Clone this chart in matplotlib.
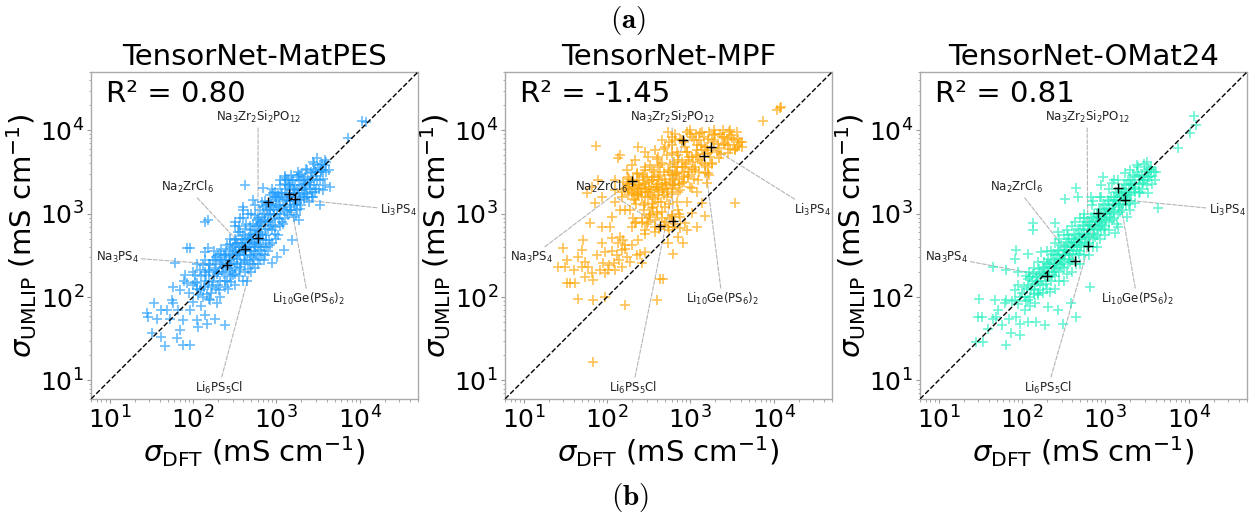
import matplotlib
matplotlib.use("Agg")
import matplotlib.pyplot as plt
import numpy as np

# ---------------- data ----------------
model_names = ["TensorNet-MatPES", "TensorNet-MPF", "TensorNet-OMat24"]
r2_texts = ["0.80", "-1.45", "0.81"]
marker_colors = ["#1E9BFF", "#FFA500", "#22F0BE"]

material_labels = ["Na$_3$PS$_4$", "Na$_2$ZrCl$_6$", "Li$_6$PS$_5$Cl",
                   "Na$_3$Zr$_2$Si$_2$PO$_{12}$", "Li$_{10}$Ge(PS$_6$)$_2$", "Li$_3$PS$_4$"]

# highlighted materials: (sigma_DFT, sigma_UMLIP) per model
hl_matpes_dft = [256, 421, 800, 603, 1420, 1675]
hl_matpes_umlip = [243, 378, 1380, 512, 1720, 1500]
hl_mpf_dft = [200, 432, 817, 617, 1460, 1770]
hl_mpf_umlip = [2470, 710, 7650, 810, 4900, 6300]
hl_omat_dft = [200, 432, 817, 617, 1420, 1720]
hl_omat_umlip = [179, 268, 1020, 406, 2030, 1460]

matpes_points = [
    (10700, 13000), (12000, 12600), (7200, 8000), (3060, 4700), (3850, 4400), (3360, 3830),
    (4230, 3330), (3680, 3330), (2320, 3330), (2790, 3040), (2120, 2530), (1760, 2770),
    (1280, 2650), (1470, 2200), (2670, 1600), (3360, 1270), (4430, 2100), (3680, 1920),
    (2550, 2200), (423, 2200), (700, 2010), (925, 1750), (532, 1455), (670, 1390),
    (404, 1210), (320, 800), (140, 800), (153, 837), (2120, 1600), (1760, 1330),
    (1470, 1100), (1610, 918), (1850, 837), (1530, 482), (883, 253), (1010, 304),
    (1220, 366), (84, 390), (92, 390), (152, 386), (140, 349), (61, 258), (80, 183),
    (84, 146), (58, 133), (70, 121), (58, 84), (67, 70), (34, 85), (28, 64), (29, 58),
    (37, 55), (42, 70), (49, 71), (56, 92), (53, 55), (32, 37), (42, 33), (46, 26),
    (64, 32), (77, 27), (92, 26.5), (111, 53), (116, 44), (140, 61), (147, 48), (185, 55),
    (243, 46), (193, 84), (161, 92), (92, 70), (101, 88), (111, 146), (77, 53), (70, 40),
    (112, 126), (126, 178), (132, 100), (141, 200), (151, 141), (158, 251), (166, 112),
    (178, 178), (190, 224), (200, 141), (200, 316), (209, 100), (224, 200), (224, 282),
    (240, 158), (251, 355), (251, 224), (263, 126), (100, 200), (112, 251), (89, 112),
    (126, 79), (141, 282), (178, 355), (282, 178),
    (282, 282), (302, 398), (316, 224), (316, 501), (331, 316), (355, 178), (355, 398),
    (380, 251), (398, 562), (398, 355), (417, 200), (447, 447), (447, 282), (479, 708),
    (501, 355), (501, 501), (525, 251), (562, 631), (562, 398), (603, 891), (603, 316),
    (631, 501), (661, 708), (708, 398), (708, 1000), (759, 562), (794, 794), (794, 355),
    (282, 501), (316, 708), (355, 708), (398, 891), (447, 158), (501, 1000), (562, 224),
    (631, 282), (708, 282), (380, 447), (417, 398), (479, 316), (525, 562), (589, 501),
    (661, 398),
    (832, 1122), (891, 631), (891, 1413), (955, 891), (1000, 1259), (1000, 501),
    (1047, 1778), (1122, 1000), (1122, 708), (1202, 1413), (1259, 1995), (1259, 891),
    (1318, 1259), (1413, 1585), (1413, 2239), (1514, 1122), (1585, 1778), (1660, 1413),
    (1778, 1995), (1778, 1122), (1905, 1585), (1995, 2239), (1995, 1259), (2239, 1778),
    (2399, 2512), (2512, 1995), (2630, 3162), (2818, 2239), (3020, 2818), (3162, 3548),
    (3311, 2512), (3548, 3981), (1259, 2818), (1122, 2512), (1585, 2512), (891, 1995),
    (158, 158), (190, 126), (214, 251), (234, 316), (269, 251), (295, 200), (339, 251),
    (372, 316), (427, 501), (468, 398), (537, 447), (589, 708), (676, 562), (741, 794),
    (851, 708), (933, 1000), (1072, 1259), (1175, 1778), (1349, 1778), (1479, 1413),
    (1698, 1778), (1862, 2512), (2138, 1995), (2344, 1585), (251, 282), (316, 355),
    (398, 447), (501, 631), (631, 794), (794, 1000), (1000, 1585), (200, 200), (158, 200),
    (302, 316), (339, 447), (427, 316), (537, 355), (759, 1259), (955, 1585), (1318, 2512),
    (3981, 3162), (3802, 2239), (2818, 3981), (126, 126), (100, 141), (79, 158),
    (105, 151), (115, 105), (123, 209), (135, 132), (145, 182), (155, 95), (162, 240),
    (174, 151), (186, 282), (195, 191), (204, 120), (214, 331), (229, 229), (245, 132),
    (257, 417), (269, 302), (275, 209), (288, 151), (295, 380), (309, 263),
    (324, 191), (331, 479), (347, 331), (363, 229), (372, 603), (389, 398), (407, 275),
    (417, 661), (437, 363), (457, 219), (468, 525), (490, 398), (513, 302), (525, 759),
    (550, 437), (575, 331), (589, 832), (617, 603), (646, 363), (676, 912), (692, 479),
    (724, 661), (741, 316), (776, 1148), (813, 479), (851, 955), (871, 1318), (912, 724),
    (933, 1096), (977, 575),
    (1023, 1514), (1072, 871), (1096, 1202), (1148, 1660), (1175, 794), (1230, 1096),
    (1288, 2291), (1349, 1445), (1380, 955), (1445, 1905), (1479, 1202), (1549, 2512),
    (1622, 1318), (1698, 2188), (1738, 955), (1820, 1660), (1862, 2884), (1950, 1148),
    (2042, 1905), (2138, 1514), (2188, 2754), (2291, 2089), (2455, 1380), (2570, 2399),
    (2692, 1820), (2884, 3311), (2951, 1995), (3090, 2512), (3388, 3162), (3631, 2630),
    (3802, 3802), (3981, 4169), (2754, 4169), (2291, 3467), (1820, 3162), (1514, 2884),
    (457, 1000), (550, 1259), (631, 1122), (724, 1413), (398, 1122), (363, 891), (832, 1660),
    (501, 200), (603, 251), (759, 398), (891, 447), (1047, 562), (398, 158), (316, 141),
    (107, 182), (120, 120), (138, 158), (148, 110), (158, 209), (170, 132), (182, 209),
    (190, 302), (209, 158), (219, 263), (234, 191), (245, 316), (257, 158), (275, 331),
    (288, 251), (302, 182), (316, 417), (339, 288), (355, 347), (372, 209), (389, 501),
    (407, 380), (427, 263), (457, 479), (479, 251), (490, 575), (513, 457), (537, 288),
    (575, 550), (603, 417), (617, 759), (646, 575), (676, 331), (724, 832), (759, 479),
    (794, 661), (832, 417), (871, 832), (912, 1202), (955, 692), (1023, 1000), (1072, 1585),
    (1148, 1148), (1202, 759), (1288, 1514), (1349, 1047), (1445, 2089), (1514, 1585),
    (1622, 1995), (1698, 1259), (1862, 1905), (1950, 1445), (2089, 2512), (2239, 2291),
    (2344, 1738), (2630, 2630), (2754, 1585), (3020, 3162), (3236, 1995), (3467, 3311),
    (2884, 1820), (1995, 3020), (1380, 2512), (1096, 2188), (977, 1820), (692, 1202),
    (550, 955), (437, 759), (347, 603), (275, 437), (219, 380), (174, 275), (132, 240),
]

mpf_points = [
    (30, 383), (31.5, 231), (26, 231), (33, 146), (36, 146), (41.5, 146), (40, 210),
    (52, 482), (50, 366), (55, 265), (63, 764), (60, 231), (66, 192), (75.5, 318),
    (83, 210), (91, 253), (95, 349), (95, 192), (109, 697), (114, 505), (120, 253),
    (125, 210), (131, 318), (137, 440), (144, 528), (151, 366), (158, 482), (165, 420),
    (173, 304), (199, 697), (218, 764), (239, 482), (250, 333), (262, 253), (287, 349),
    (104, 210), (87, 440), (69, 160), (55, 175), (50, 231), (45.5, 304), (33, 277),
    (144, 1100), (114, 918), (87, 697), (72, 1330), (125, 1390), (151, 1600), (165, 1100),
    (87, 1600), (57, 1750), (66, 2100), (79, 2530), (125, 2530), (137, 4600), (144, 5050),
    (239, 6350), (287, 5530), (199, 3830),
    (125, 1920), (151, 1830), (181, 2100), (199, 1750), (228, 2200), (239, 1670),
    (262, 2010), (287, 2310), (315, 1830), (345, 2530), (361, 1600), (396, 2100),
    (415, 2770), (455, 1920), (499, 2310), (547, 3330), (600, 2010), (628, 2530),
    (689, 3040), (721, 1830), (791, 2310), (867, 3660), (951, 2770), (1040, 2010),
    (1140, 3330), (1250, 2530), (1370, 4010), (1510, 3040), (1650, 3660), (218, 1455),
    (287, 1330), (345, 1160), (415, 1390), (499, 1210), (600, 918), (721, 1100),
    (867, 764), (908, 635), (262, 764), (315, 800), (378, 697), (455, 877), (547, 697),
    (755, 665), (1040, 1010), (1200, 697), (1370, 1330), (345, 3330), (455, 4010),
    (600, 5280), (315, 4820), (287, 3660), (415, 4820), (499, 6350), (658, 7640),
    (721, 4400), (908, 5530), (1040, 8380), (995, 10070), (1200, 6650), (1370, 5790),
    (1650, 5280), (1810, 7640), (1900, 10070), (2180, 6070), (2390, 8380), (2620, 6970),
    (3010, 10070), (3150, 8000), (3610, 9610), (3780, 6650), (4150, 7290), (3450, 5790),
    (2870, 5280), (2180, 4600), (1810, 4010), (1510, 6350), (1310, 9180), (908, 9610),
    (791, 7640), (547, 9610), (600, 8380), (455, 7640), (378, 5790), (274, 2900),
    (228, 3040), (181, 2770), (158, 2420), (173, 3330), (218, 4400), (415, 3660),
    (658, 3660), (951, 4400), (1250, 4820), (1650, 3040), (1580, 2310), (1200, 1830),
    (908, 1390), (689, 1390), (522, 1600), (396, 1050), (330, 962), (755, 918),
    (628, 697), (1040, 4820), (287, 635), (190, 1100), (208, 877),
    (1510, 940), (3470, 1350), (628, 331), (435, 167), (476, 167), (396, 93), (165, 80),
    (45, 96), (69, 92), (95, 100), (69, 16.7), (75, 6460), (547, 440), (721, 528),
    (820, 440), (12000, 18300), (11000, 17500), (12300, 18800), (7400, 12900),
    (166, 1995), (178, 1660), (190, 2291), (200, 1820), (209, 1514), (219, 2089),
    (229, 1738), (240, 2512), (251, 1995), (263, 1585), (275, 2291), (288, 1820),
    (302, 2754), (316, 2089), (331, 1660), (347, 2512), (363, 1995), (380, 1514),
    (398, 2291), (417, 1820), (437, 2884), (457, 2188), (479, 1660), (501, 2630),
    (525, 1995), (550, 3162), (575, 2399), (603, 1738), (631, 2884), (661, 2188),
    (692, 3631), (724, 2630), (759, 1905), (794, 3162), (832, 2399), (891, 3981),
    (933, 2884), (1000, 2089), (1047, 3467), (1122, 2630), (224, 1318), (282, 1259),
    (355, 1202), (447, 1380), (562, 1318), (182, 2630), (229, 3020), (288, 3311),
    (363, 3162), (331, 3802),
    (525, 5012), (603, 6607), (692, 5495), (759, 7943), (871, 6310), (955, 4786),
    (1096, 7586), (1202, 5754), (1318, 4365), (1445, 8318), (1585, 6310), (1738, 4786),
    (1905, 7244), (2089, 5495), (2291, 9120), (2512, 6607), (2754, 7943), (3020, 6026),
    (3311, 7586), (3631, 6310), (3981, 7244), (2884, 9550), (1995, 8913), (1380, 9550),
    (1000, 8913), (794, 4169), (1148, 3631), (1514, 3802), (1820, 3981), (1259, 3162),
    (1660, 2884), (661, 9120), (575, 3981), (479, 6026), (398, 4571),
    (263, 891), (302, 759), (331, 1000), (380, 832), (417, 661), (457, 1047), (501, 794),
    (550, 631), (603, 955), (661, 759), (724, 1000), (380, 603), (288, 575), (224, 794),
    (166, 380), (190, 263), (138, 282), (115, 355), (200, 417), (151, 229), (229, 316),
    (105, 240),
    (174, 2291), (186, 1905), (204, 2512), (214, 1995), (234, 1660), (245, 2188),
    (257, 1820), (269, 2754), (295, 1995), (309, 1585), (324, 2399), (339, 1905),
    (372, 2754), (389, 2089), (407, 1660), (427, 2512), (468, 1995), (490, 3162),
    (513, 2291), (537, 1820), (589, 2884), (617, 2188), (676, 3020), (741, 2291),
    (813, 3631), (851, 2754), (977, 3162), (1072, 4169), (1175, 5012), (1349, 6607),
    (1479, 5248), (1622, 7943), (1778, 5754), (1950, 8710), (2138, 6918), (2344, 5248),
    (2570, 8318), (2818, 6607), (3090, 8710), (3388, 6026), (3715, 7943), (4169, 6310),
    (2455, 10000), (1698, 9550), (1175, 9120), (851, 7244), (708, 5012), (912, 5495),
    (1259, 7586), (562, 7244), (437, 3802), (631, 4169), (316, 912), (398, 1000),
    (479, 724), (575, 871), (275, 1096), (347, 1318),
]

omat_points = [
    (11600, 14800), (12400, 11600), (10300, 9180), (7480, 6070), (2480, 3660),
    (3120, 4200), (3580, 3340), (4110, 3180), (3270, 2770), (2260, 2770), (2840, 2310),
    (2060, 2200), (2590, 1830), (3270, 1750), (1710, 3040), (1430, 2530), (940, 2770),
    (1190, 2310), (4300, 1160), (2260, 1330), (1970, 1100), (1800, 918), (1430, 697),
    (1300, 580), (859, 697), (652, 133), (451, 58), (312, 48), (393, 84), (272, 70),
    (451, 2010), (472, 1600), (327, 1520), (682, 1600), (136, 764), (136, 635),
    (248, 764), (272, 607), (86, 366), (82, 290), (119, 333), (171, 349), (45, 231),
    (65, 210), (90, 201), (149, 175), (31, 96), (47, 92), (65, 92), (62, 84), (82, 92),
    (52, 70), (49, 58), (30, 58), (33, 58), (45, 55), (39, 42), (71, 55), (75, 37),
    (94, 35), (65, 26.5), (28, 29), (34, 29), (94, 48), (119, 50), (149, 50), (188, 46),
    (108, 70), (143, 84), (206, 76), (119, 92), (86, 58), (57, 46),
    (100, 112), (112, 89), (120, 141), (126, 100), (132, 158), (141, 126), (151, 178),
    (158, 112), (166, 200), (178, 141), (178, 224), (190, 178), (200, 126), (200, 251),
    (209, 200), (224, 158), (224, 282), (240, 224), (251, 178), (251, 316), (263, 251),
    (282, 200), (282, 355), (302, 282), (316, 224), (316, 398), (331, 316), (355, 251),
    (355, 447), (380, 355), (398, 282), (398, 501), (417, 398), (447, 316), (447, 562),
    (479, 447), (501, 355), (501, 631), (525, 501), (562, 398), (562, 708), (603, 562),
    (631, 447), (631, 794), (661, 631), (708, 501), (708, 891), (759, 708), (794, 562),
    (794, 1000), (832, 794), (891, 631), (891, 1122), (955, 891), (1000, 708),
    (1000, 1259), (1047, 1000), (1122, 794), (1122, 1413), (1202, 1122), (1259, 891),
    (1259, 1585), (1318, 1259), (1413, 1000), (1413, 1778), (1514, 1413), (1585, 1122),
    (1585, 1995), (1660, 1585), (1778, 1259), (1778, 2239), (1905, 1778), (1995, 1413),
    (1995, 2512), (2239, 1995), (2512, 2818), (2512, 1778), (2818, 2512), (3162, 3162),
    (3548, 2818), (3162, 2239), (158, 158), (200, 200), (251, 251), (316, 316),
    (398, 398), (501, 501), (631, 631), (794, 794), (1000, 1000), (1259, 1259),
    (1585, 1585), (141, 224), (224, 355), (355, 562), (562, 891), (891, 1585),
    (178, 112), (282, 158), (447, 251), (708, 398), (1122, 631), (89, 141), (112, 178),
    (126, 79),
    (105, 132), (110, 100), (117, 166), (129, 120), (135, 191), (145, 145), (155, 105),
    (162, 219), (170, 158), (182, 263), (186, 191), (195, 145), (204, 288), (214, 229),
    (229, 182), (234, 331), (245, 263), (257, 209), (269, 363), (275, 288), (288, 240),
    (295, 417), (309, 331), (324, 263), (339, 457), (347, 363), (363, 288), (372, 501),
    (389, 417), (407, 331), (427, 575), (437, 457), (457, 363), (468, 661), (490, 525),
    (513, 417), (537, 724), (550, 575), (575, 457), (589, 794), (617, 661), (646, 525),
    (676, 912), (692, 724), (724, 575), (741, 1000), (776, 832), (813, 661), (851, 1148),
    (871, 912), (912, 759), (933, 1318), (977, 1047), (1023, 832), (1072, 1445),
    (1096, 1148), (1148, 912), (1175, 1585), (1230, 1318), (1288, 1047), (1349, 1820),
    (1380, 1445), (1445, 1202), (1479, 1995), (1549, 1660), (1622, 1318), (1698, 2291),
    (1738, 1820), (1820, 1514), (1862, 2512), (1950, 1995), (2042, 1660), (2138, 2884),
    (2188, 2291), (2291, 1820), (2399, 3162), (2630, 2512), (2754, 1995), (2951, 3311),
    (3311, 2754), (3548, 3631), (3802, 3162), (3981, 2512), (2399, 3802), (1995, 3311),
    (316, 562), (251, 447), (200, 355), (501, 891), (398, 708), (631, 316), (501, 251),
    (398, 200), (316, 158), (251, 126), (794, 398), (1000, 562), (95, 100), (83, 120),
    (76, 89), (891, 2239), (708, 1413), (1259, 2512),
    (115, 126), (126, 174), (138, 110), (151, 151), (166, 120), (174, 191), (190, 229),
    (209, 174), (219, 251), (240, 200), (263, 316), (288, 288), (302, 229), (331, 363),
    (363, 331), (380, 263), (417, 457), (457, 417), (479, 331), (525, 575), (575, 525),
    (603, 417), (661, 724), (724, 661), (759, 525), (832, 912), (912, 832), (955, 661),
    (1047, 1148), (1148, 1047), (1202, 832), (1318, 1445), (1445, 1318), (1514, 1047),
    (1660, 1820), (1820, 1660), (1905, 1318), (2089, 2291), (2291, 2089), (2512, 2291),
    (2754, 2884), (3020, 2512), (3311, 3467), (3631, 2291), (2884, 3981), (275, 501),
    (347, 631), (437, 794), (550, 1000), (692, 1259), (871, 1585), (1096, 1995),
    (219, 115), (347, 191), (550, 316), (871, 501), (1380, 759), (158, 263), (120, 200),
    (91, 83),
]

all_points = [matpes_points, mpf_points, omat_points]
all_hl = [(hl_matpes_dft, hl_matpes_umlip), (hl_mpf_dft, hl_mpf_umlip), (hl_omat_dft, hl_omat_umlip)]

# ---------------- layout ----------------
label_xy = [(0.080, 0.434), (0.294, 0.648), (0.391, 0.034),
            (0.511, 0.862), (0.664, 0.306), (0.939, 0.578)]
axes_lefts = [91 / 1255, 505 / 1255, 920 / 1255]
ax_w = 327 / 1255
ax_h = 327 / 518
ax_b = (518 - 399) / 518
lim = (6, 50000)

fig = plt.figure(figsize=(12.55, 5.18), dpi=100)

for i in range(3):
    ax = fig.add_axes([axes_lefts[i], ax_b, ax_w, ax_h])
    pts = np.array(all_points[i], dtype=float)
    ax.scatter(pts[:, 0], pts[:, 1], marker="+", s=55, c=marker_colors[i],
               alpha=0.65, linewidths=1.25, zorder=3)
    hx, hy = all_hl[i]
    ax.scatter(hx, hy, marker="+", s=60, c="black", linewidths=1.0, zorder=4)
    ax.plot(lim, lim, color="black", ls="--", lw=1.0, zorder=3.5)
    ax.set_xscale("log")
    ax.set_yscale("log")
    ax.set_xlim(lim)
    ax.set_ylim(lim)

    for j, lab in enumerate(material_labels):
        ax.annotate(lab, xy=(hx[j], hy[j]), xytext=label_xy[j], textcoords="axes fraction",
                    ha="center", va="center", fontsize=8.5, color=(0, 0, 0, 0),
                    arrowprops=dict(arrowstyle="-", color="#b5b5b5", lw=0.8,
                                    linestyle="--", shrinkA=0, shrinkB=0),
                    zorder=1)
        ax.text(label_xy[j][0], label_xy[j][1], lab, transform=ax.transAxes,
                ha="center", va="center", fontsize=8.5, color="#222222", zorder=6)

    ax.text(0.045, 0.975, "R² = " + r2_texts[i], transform=ax.transAxes,
            ha="left", va="top", fontsize=21, zorder=7)
    ax.set_title(model_names[i], fontsize=21, pad=5)
    ax.set_xlabel(r"$\sigma_{\mathrm{DFT}}$ (mS cm$^{-1}$)", fontsize=21, labelpad=1)
    ax.set_ylabel(r"$\sigma_{\mathrm{UMLIP}}$ (mS cm$^{-1}$)", fontsize=21, labelpad=1)
    ax.tick_params(axis="both", which="major", labelsize=18, length=3, color="#999999", pad=2)
    ax.tick_params(axis="both", which="minor", length=1.8, color="#999999")
    for sp in ax.spines.values():
        sp.set_color("#aaaaaa")
        sp.set_linewidth(1.0)

fig.text(0.5004, 0.961, r"$\mathbf{(a)}$", math_fontfamily="cm", fontsize=21,
         ha="center", va="center")
fig.text(0.502, 0.040, r"$\mathbf{(b)}$", math_fontfamily="cm", fontsize=21,
         ha="center", va="center")

fig.savefig("out.png", dpi=100)
